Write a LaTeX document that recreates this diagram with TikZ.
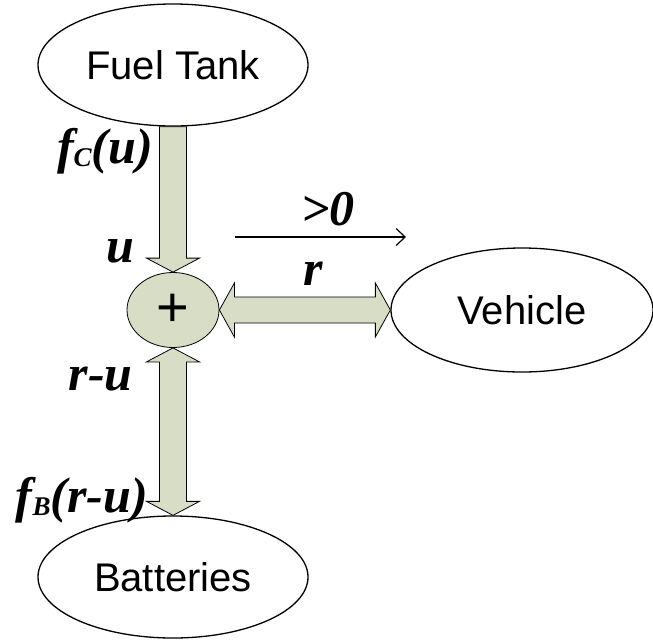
\documentclass[tikz,border=0pt]{standalone}
\usepackage{fontspec}
\setmainfont{Liberation Sans}
\newfontfamily\lblfont{Liberation Serif}
\usetikzlibrary{shapes.geometric,calc,arrows.meta}
\definecolor{flowgreen}{RGB}{216,222,198}
\tikzset{
  blob/.style={draw, ellipse, line width=1.3pt, inner sep=0pt,
    minimum width=270pt, minimum height=122pt, font=\fontsize{40}{40}\selectfont},
  flow/.style={draw, fill=flowgreen, line width=0.8pt, line join=miter},
  lbl/.style={inner sep=0pt, font=\lblfont\bfseries\itshape\fontsize{50}{50}\selectfont}
}
\newcommand{\sub}[1]{\raisebox{-3pt}{\fontsize{27}{27}\selectfont #1}}
\begin{document}
\begin{tikzpicture}[x=1pt,y=-1pt]
\useasboundingbox (0,0) rectangle (653,643);
\node[blob] (tank) at (173,65) {Fuel Tank};
\node[blob, minimum width=262pt, minimum height=124pt] (vehicle) at (522,310) {Vehicle};
\node[blob] (batt) at (173,577) {Batteries};
\node[draw, ellipse, fill=flowgreen, line width=0.8pt, inner sep=0pt, minimum width=92pt,
  minimum height=75pt, font=\fontsize{56}{56}\selectfont] (plus) at (173,310) {+};

% energy flows
\draw[flow] ($(tank.south)+(-13.5,0)$) -- ($(plus.north)+(-13.5,-14)$) -- ($(plus.north)+(-26.5,-14)$)
  -- (plus.north) -- ($(plus.north)+(26.5,-14)$) -- ($(plus.north)+(13.5,-14)$)
  -- ($(tank.south)+(13.5,0)$) -- cycle;
\draw[flow] (plus.east) -- ($(plus.east)+(15,-27)$) -- ($(plus.east)+(15,-13)$)
  -- ($(vehicle.west)+(-15,-13)$) -- ($(vehicle.west)+(-15,-27)$) -- (vehicle.west)
  -- ($(vehicle.west)+(-15,27)$) -- ($(vehicle.west)+(-15,13)$) -- ($(plus.east)+(15,13)$)
  -- ($(plus.east)+(15,27)$) -- cycle;
\draw[flow] (plus.south) -- ($(plus.south)+(-26.5,14)$) -- ($(plus.south)+(-13.5,14)$)
  -- ($(batt.north)+(-13.5,-14)$) -- ($(batt.north)+(-26.5,-14)$) -- (batt.north)
  -- ($(batt.north)+(26.5,-14)$) -- ($(batt.north)+(13.5,-14)$) -- ($(plus.south)+(13.5,14)$)
  -- ($(plus.south)+(26.5,14)$) -- cycle;

% direction of positive flow
\coordinate (dirL) at (235,237);
\coordinate (dirR) at (406,237);
\draw[line width=1.2pt, -{Straight Barb[length=9pt,width=17pt]}] (dirL) -- (dirR);

\node[lbl, anchor=base east] (fcu) at (153,163) {f\sub{C}(u)};
\node[lbl, anchor=base] (uin) at (120,262) {u};
\node[lbl, anchor=base] (pos) at (328,225) {>0};
\node[lbl, anchor=base] (rout) at (313,285) {r};
\node[lbl, anchor=base east] (ru) at (133,390) {r-u};
\node[lbl, anchor=base east] (fbru) at (148,512) {f\sub{B}(r-u)};
\end{tikzpicture}
\end{document}
